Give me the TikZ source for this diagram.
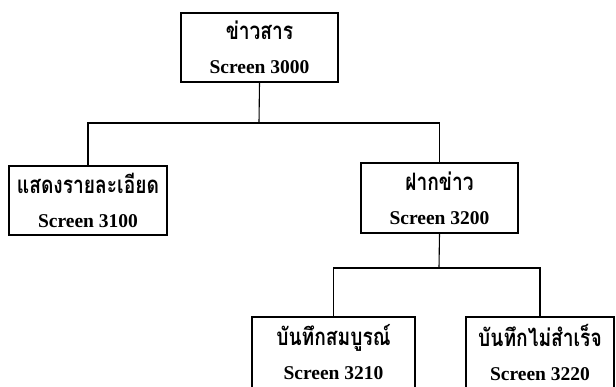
\documentclass[tikz,border=0pt]{standalone}
\usepackage{fontspec}
\setmainfont{Liberation Serif}
\newfontfamily\thaifont[Script=Thai,FakeStretch=0.8]{Loma}
\newcommand{\thaitext}[1]{{\thaifont\bfseries\fontsize{24}{34}\selectfont #1}}

\begin{document}
\begin{tikzpicture}[x=1pt,y=-1pt,
    scrbox/.style={draw,line width=1.2pt,inner sep=0pt,align=center,
        font=\bfseries\fontsize{19.5}{34}\selectfont},
    link/.style={line width=1.1pt}]
                \useasboundingbox (0,0) rectangle (616,386);
                \node[scrbox,minimum width=157pt,minimum height=69pt] (news) at (259.5,47.5) {\thaitext{ข่าวสาร}\\Screen 3000};
                \node[scrbox,minimum width=158pt,minimum height=69pt] (detail) at (88,200.5) {\thaitext{แสดงรายละเอียด}\\Screen 3100};
                \node[scrbox,minimum width=157pt,minimum height=70pt] (post) at (439.5,198) {\thaitext{ฝากข่าว}\\Screen 3200};
                \node[scrbox,minimum width=163pt,minimum height=71pt] (saveok) at (333.5,352.5) {\thaitext{บันทึกสมบูรณ์}\\Screen 3210};
                \node[scrbox,minimum width=148pt,minimum height=71pt] (savefail) at (540,352.5) {\thaitext{บันทึกไม่สำเร็จ}\\Screen 3220};
                \coordinate (top) at (259,123);
                \coordinate (mid) at (439,268);
                \draw[link] (news.south) -- (top);
                \draw[link] (detail.north) |- (top) -| (post.north);
                \draw[link] (post.south) -- (mid);
                \draw[link] (saveok.north) |- (mid) -| (savefail.north);
            \end{tikzpicture}
\end{document}
